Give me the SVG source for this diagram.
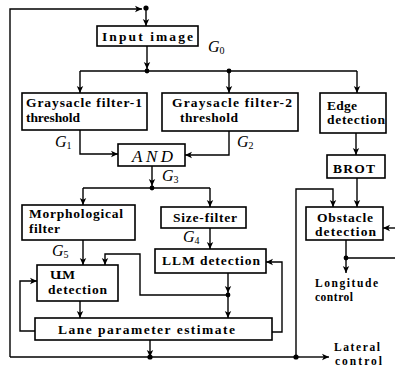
<svg xmlns="http://www.w3.org/2000/svg" width="395" height="370" viewBox="0 0 395 370">
<defs>
<marker id="ah" markerUnits="userSpaceOnUse" markerWidth="8" markerHeight="8" viewBox="0 0 8 8" refX="7" refY="4" orient="auto">
<path d="M0,0.8 L7,4 L0,7.2 L1.8,4 Z" fill="#000"/>
</marker>
</defs>
<style>
.box{fill:#fff;stroke:#000;stroke-width:1.6}
.ln{fill:none;stroke:#000;stroke-width:1.4}
.ar{fill:none;stroke:#000;stroke-width:1.4;marker-end:url(#ah)}
.t{font-family:"Liberation Serif","Times New Roman",serif;font-weight:bold;font-size:13.5px;fill:#000}
.c{font-size:11.5px}
.g{font-family:"Liberation Serif","Times New Roman",serif;font-style:italic;font-size:16px;fill:#000}
.s{font-size:10px;font-style:normal}
</style>
<rect width="395" height="370" fill="#fff"/>
<g id="connectors">
<path class="ar" d="M10,357 V9 H142"/>
<path class="ln" d="M10,357 H300"/>
<path class="ar" d="M300,357 H329"/>
<path class="ar" d="M146,8 V26"/>
<path class="ar" d="M147,46 V69"/>
<path class="ln" d="M80,71 H357"/>
<path class="ar" d="M80,71 V93"/>
<path class="ar" d="M229,71 V93"/>
<path class="ar" d="M357,71 V93"/>
<path class="ar" d="M80,130 V154 H118"/>
<path class="ar" d="M229,131 V155 H185"/>
<path class="ar" d="M152,166 V186"/>
<path class="ln" d="M83,188 H210"/>
<path class="ar" d="M83,188 V205"/>
<path class="ar" d="M210,188 V207"/>
<path class="ar" d="M356,133 V155"/>
<path class="ar" d="M357,178 V207"/>
<path class="ar" d="M296,357 V189 H333 V207"/>
<path class="ar" d="M395,228 H383"/>
<path class="ln" d="M346,240 V258 H395"/>
<path class="ar" d="M346,258 V273"/>
<path class="ar" d="M210,228 V249"/>
<path class="ar" d="M83,240 V265"/>
<path class="ar" d="M228,273 V293"/>
<path class="ar" d="M228,295 V318"/>
<path class="ar" d="M228,295 H140 V254 H105 V265"/>
<path class="ar" d="M80,301 V318"/>
<path class="ar" d="M35,331 H20 V281 H37"/>
<path class="ar" d="M272,332 H282 V262 H266"/>
<path class="ar" d="M150,340 V357"/>
<circle cx="146" cy="8" r="2.6"/>
<circle cx="147" cy="71" r="2.4"/>
<circle cx="229" cy="71" r="2.4"/>
<circle cx="152" cy="188" r="2.4"/>
<circle cx="346" cy="258" r="2.4"/>
<circle cx="228" cy="295" r="2.4"/>
<circle cx="150" cy="357" r="2.6"/>
<circle cx="296" cy="357" r="2.6"/>
</g>
<g id="input">
<rect class="box" x="97" y="26" width="101" height="20"/>
<text class="t" x="102" y="41" textLength="91" lengthAdjust="spacing">Input image</text>
</g>
<g id="gray1">
<rect class="box" x="22" y="93" width="125" height="37"/>
<text class="t" x="26" y="107" textLength="116" lengthAdjust="spacing">Graysacle filter-1</text>
<text class="t" x="26" y="122" textLength="54" lengthAdjust="spacing">threshold</text>
</g>
<g id="gray2">
<rect class="box" x="162" y="93" width="136" height="38"/>
<text class="t" x="172" y="107" textLength="120" lengthAdjust="spacing">Graysacle filter-2</text>
<text class="t" x="180" y="122" textLength="58" lengthAdjust="spacing">threshold</text>
</g>
<g id="edge">
<rect class="box" x="320" y="93" width="66" height="40"/>
<text class="t" x="327" y="110" textLength="30" lengthAdjust="spacing">Edge</text>
<text class="t" x="327" y="124" textLength="58" lengthAdjust="spacing">detection</text>
</g>
<g id="and">
<rect class="box" x="118" y="144" width="67" height="22"/>
<text x="132" y="162" font-family="Liberation Serif, serif" font-style="italic" font-size="17" textLength="41" lengthAdjust="spacing">AND</text>
</g>
<g id="brot">
<rect class="box" x="327" y="155" width="58" height="23"/>
<text class="t" x="333" y="173" textLength="42" lengthAdjust="spacing">BROT</text>
</g>
<g id="obstacle">
<rect class="box" x="306" y="207" width="77" height="33"/>
<text class="t" x="317" y="222" textLength="56" lengthAdjust="spacing">Obstacle</text>
<text class="t" x="315" y="236" textLength="61" lengthAdjust="spacing">detection</text>
</g>
<g id="morph">
<rect class="box" x="22" y="205" width="113" height="35"/>
<text class="t" x="29" y="218" textLength="94" lengthAdjust="spacing">Morphological</text>
<text class="t" x="29" y="233" textLength="31" lengthAdjust="spacing">filter</text>
</g>
<g id="size">
<rect class="box" x="161" y="207" width="85" height="21"/>
<text class="t" x="173" y="222" textLength="64" lengthAdjust="spacing">Size-filter</text>
</g>
<g id="llm">
<rect class="box" x="155" y="249" width="111" height="24"/>
<text class="t" x="162" y="265" textLength="98" lengthAdjust="spacing">LLM detection</text>
</g>
<g id="ulm">
<rect class="box" x="37" y="265" width="81" height="36"/>
<text class="t" x="50" y="279" textLength="25" lengthAdjust="spacing">ULM</text>
<text class="t" x="48" y="294" textLength="59" lengthAdjust="spacing">detection</text>
</g>
<g id="lane">
<rect class="box" x="35" y="318" width="237" height="22"/>
<text class="t" x="58" y="334" textLength="177" lengthAdjust="spacing">Lane parameter estimate</text>
</g>
<g id="longitude">
<text class="t c" x="315" y="287" textLength="63" lengthAdjust="spacing">Longitude</text>
<text class="t c" x="315" y="301" textLength="38" lengthAdjust="spacing">control</text>
</g>
<g id="lateral">
<text class="t c" x="334" y="351" textLength="46" lengthAdjust="spacing">Lateral</text>
<text class="t c" x="335" y="365" textLength="47" lengthAdjust="spacing">control</text>
</g>
<g id="labels">
<text class="g" x="208" y="52">G<tspan class="s" dy="2">0</tspan></text>
<text class="g" x="55" y="147">G<tspan class="s" dy="2">1</tspan></text>
<text class="g" x="237" y="147">G<tspan class="s" dy="2">2</tspan></text>
<text class="g" x="162" y="181">G<tspan class="s" dy="2">3</tspan></text>
<text class="g" x="183" y="242">G<tspan class="s" dy="2">4</tspan></text>
<text class="g" x="52" y="256">G<tspan class="s" dy="2">5</tspan></text>
</g>
</svg>
